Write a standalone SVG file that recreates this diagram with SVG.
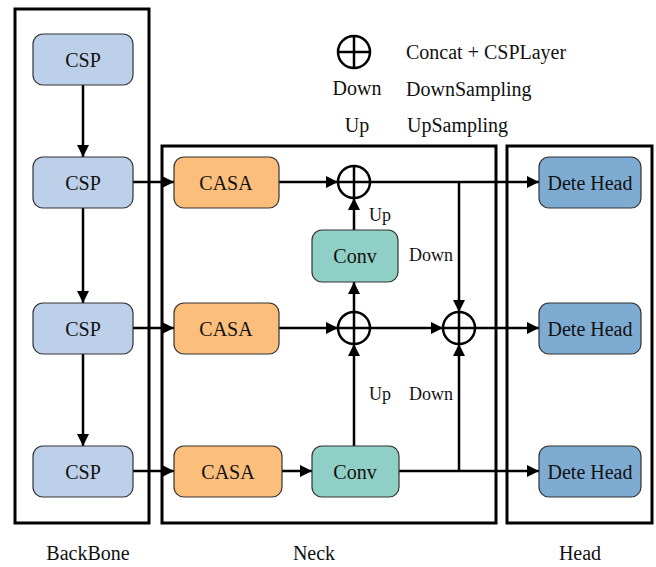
<svg xmlns="http://www.w3.org/2000/svg" width="656" height="567" viewBox="0 0 656 567">
<style>
text{font-family:"Liberation Serif","Times New Roman",serif;fill:#111;}
.t{font-size:20px;text-anchor:middle;dominant-baseline:central;}
.l{font-size:18px;text-anchor:middle;dominant-baseline:central;}
.lg{font-size:20px;dominant-baseline:central;}
.frame{fill:none;stroke:#000;stroke-width:3;}
.n{stroke:#333;stroke-width:1.2;}
.csp{fill:#bcd0ea;}
.casa{fill:#fbbe7b;}
.conv{fill:#8fcfc6;}
.head{fill:#7eabd2;}
.c{fill:none;stroke:#000;stroke-width:2.5;}
.e{fill:none;stroke:#000;stroke-width:2.5;}
.ea{fill:none;stroke:#000;stroke-width:2.5;marker-end:url(#ah);}
</style>
<defs>
<marker id="ah" viewBox="0 0 10 10" refX="10" refY="5" markerWidth="4.8" markerHeight="4.8" markerUnits="strokeWidth" orient="auto">
<path d="M0,0 L10,5 L0,10 Z" fill="#000"/>
</marker>
</defs>
<rect width="656" height="567" fill="#fff"/>
<g id="frames">
<rect class="frame" x="15" y="9" width="134" height="514"/>
<rect class="frame" x="162" y="146" width="334" height="377"/>
<rect class="frame" x="507" y="146" width="145" height="377"/>
</g>
<g id="legend">
<circle class="c" cx="354" cy="52" r="16"/>
<line class="e" x1="338" y1="52" x2="370" y2="52"/>
<line class="e" x1="354" y1="36" x2="354" y2="68"/>
<text class="lg" x="406" y="52">Concat + CSPLayer</text>
<text class="t" x="357" y="88">Down</text>
<text class="lg" x="406" y="89">DownSampling</text>
<text class="t" x="357" y="125">Up</text>
<text class="lg" x="407" y="125">UpSampling</text>
</g>
<g id="connectors">
<line class="ea" x1="83" y1="85" x2="83" y2="157"/>
<line class="ea" x1="83" y1="208" x2="83" y2="303"/>
<line class="ea" x1="83" y1="354" x2="83" y2="446"/>
<line class="ea" x1="133" y1="182" x2="174" y2="182"/>
<line class="ea" x1="133" y1="328" x2="174" y2="328"/>
<line class="ea" x1="133" y1="471" x2="174" y2="471"/>
<line class="ea" x1="279" y1="182" x2="338" y2="182"/>
<line class="ea" x1="370" y1="182" x2="539" y2="182"/>
<line class="ea" x1="459" y1="182" x2="459" y2="312"/>
<line class="ea" x1="354" y1="230" x2="354" y2="198"/>
<line class="ea" x1="354" y1="312" x2="354" y2="282"/>
<line class="ea" x1="279" y1="328" x2="338" y2="328"/>
<line class="ea" x1="370" y1="328" x2="443" y2="328"/>
<line class="ea" x1="475" y1="328" x2="539" y2="328"/>
<line class="ea" x1="282" y1="471" x2="312" y2="471"/>
<line class="ea" x1="399" y1="471" x2="539" y2="471"/>
<line class="ea" x1="354" y1="446" x2="354" y2="344"/>
<line class="ea" x1="459" y1="471" x2="459" y2="344"/>
<text class="l" x="380" y="215">Up</text>
<text class="l" x="431" y="255">Down</text>
<text class="l" x="380" y="394">Up</text>
<text class="l" x="431" y="394">Down</text>
</g>
<g id="csp1"><rect class="n csp" x="33" y="34" width="100" height="51" rx="10"/><text class="t" x="83" y="60">CSP</text></g>
<g id="csp2"><rect class="n csp" x="33" y="157" width="100" height="51" rx="10"/><text class="t" x="83" y="183">CSP</text></g>
<g id="csp3"><rect class="n csp" x="33" y="303" width="100" height="51" rx="10"/><text class="t" x="83" y="329">CSP</text></g>
<g id="csp4"><rect class="n csp" x="33" y="446" width="100" height="51" rx="10"/><text class="t" x="83" y="472">CSP</text></g>
<g id="casa1"><rect class="n casa" x="174" y="157" width="105" height="51" rx="10"/><text class="t" x="226" y="183">CASA</text></g>
<g id="casa2"><rect class="n casa" x="174" y="303" width="105" height="51" rx="10"/><text class="t" x="226" y="329">CASA</text></g>
<g id="casa3"><rect class="n casa" x="174" y="446" width="108" height="51" rx="10"/><text class="t" x="228" y="472">CASA</text></g>
<g id="conv1"><rect class="n conv" x="312" y="230" width="86" height="52" rx="10"/><text class="t" x="355" y="256">Conv</text></g>
<g id="conv2"><rect class="n conv" x="312" y="446" width="87" height="51" rx="10"/><text class="t" x="355" y="472">Conv</text></g>
<g id="concat1"><circle class="c" cx="354" cy="182" r="16"/><line class="e" x1="338" y1="182" x2="370" y2="182"/><line class="e" x1="354" y1="166" x2="354" y2="198"/></g>
<g id="concat2"><circle class="c" cx="354" cy="328" r="16"/><line class="e" x1="338" y1="328" x2="370" y2="328"/><line class="e" x1="354" y1="312" x2="354" y2="344"/></g>
<g id="concat3"><circle class="c" cx="459" cy="328" r="16"/><line class="e" x1="443" y1="328" x2="475" y2="328"/><line class="e" x1="459" y1="312" x2="459" y2="344"/></g>
<g id="head1"><rect class="n head" x="539" y="157" width="102" height="51" rx="10"/><text class="t" x="590" y="183">Dete Head</text></g>
<g id="head2"><rect class="n head" x="539" y="303" width="102" height="51" rx="10"/><text class="t" x="590" y="329">Dete Head</text></g>
<g id="head3"><rect class="n head" x="539" y="446" width="102" height="51" rx="10"/><text class="t" x="590" y="472">Dete Head</text></g>
<g id="labels">
<text class="t" x="88" y="553">BackBone</text>
<text class="t" x="314" y="553">Neck</text>
<text class="t" x="580" y="553">Head</text>
</g>
</svg>
